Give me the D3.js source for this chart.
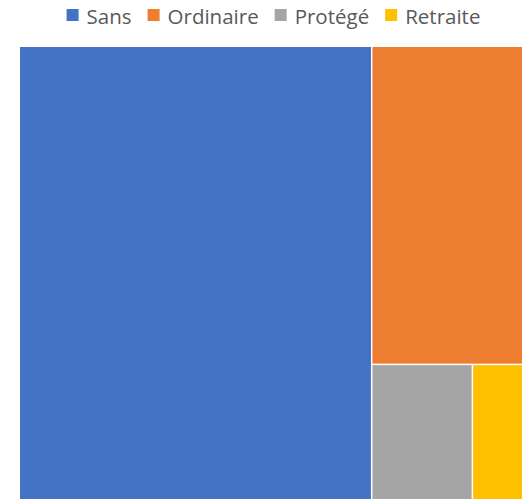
<!DOCTYPE html>
<html>
<head>
<meta charset="utf-8">
<script src="https://cdn.jsdelivr.net/npm/d3@7"></script>
<style>
  body { margin: 0; background: #fff; }
  text { font-family: "Open Sans", sans-serif; }
</style>
</head>
<body>
<svg width="525" height="499"></svg>
<script>
var categories = ["Sans", "Ordinaire", "Protégé", "Retraite"]
var values = [70, 21, 6, 3]
var colors = ["#4472C4", "#ED7D31", "#A5A5A5", "#FFC000"]

var svg = d3.select("svg"),
    width = +svg.attr("width"),
    height = +svg.attr("height");

var area = { left: 20, top: 47, right: 522, bottom: 500 }

var color = d3.scaleOrdinal().domain(categories).range(colors)

var root = d3.hierarchy({ children: categories.map((c, i) => ({ name: c, value: values[i] })) })
    .sum(d => d.value || 0)
    .sort((a, b) => b.value - a.value)

d3.treemap()
    .tile(d3.treemapBinary)
    .size([area.right - area.left, area.bottom - area.top])
    .paddingInner(1.5)(root)

var g = svg.append("g")
    .attr("transform", "translate(" + area.left + "," + area.top + ")")

g.selectAll("rect")
    .data(root.leaves())
    .join("rect")
    .attr("x", d => d.x0)
    .attr("y", d => d.y0)
    .attr("width", d => d.x1 - d.x0)
    .attr("height", d => d.y1 - d.y0)
    .attr("fill", d => color(d.data.name))

// legend, centred at the top
var legend = svg.append("g")
var x = 0
categories.forEach(function (c) {
    var item = legend.append("g").attr("transform", "translate(" + x + ",0)")
    item.append("rect")
        .attr("x", 0).attr("y", 9)
        .attr("width", 12).attr("height", 12)
        .attr("fill", color(c))
    var t = item.append("text")
        .attr("x", 20).attr("y", 23.5)
        .attr("font-size", 20.5)
        .attr("fill", "#595959")
        .text(c)
    x += 20 + t.node().getComputedTextLength() + 16
})
var lw = x - 16
legend.attr("transform", "translate(" + (273.5 - lw / 2) + ",0)")
</script>
</body>
</html>
